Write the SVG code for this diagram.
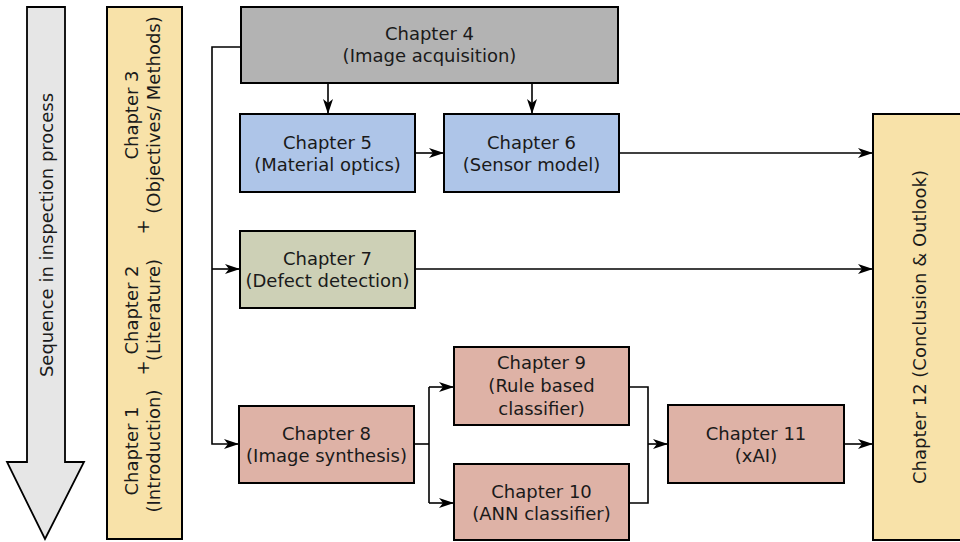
<svg xmlns="http://www.w3.org/2000/svg" width="960" height="542" viewBox="0 0 960 542">
<style>
text{font-family:"DejaVu Sans","Liberation Sans",sans-serif;font-size:18px;fill:#1a1a1a;text-anchor:middle}
.box{stroke:#000;stroke-width:2}
.grey{fill:#b3b3b3}
.blue{fill:#aec5e8}
.green{fill:#cdd0b6}
.pink{fill:#deb2a6}
.yellow{fill:#f8e2a9}
.con{fill:none;stroke:#000;stroke-width:1.6}
</style>
<defs>
<marker id="ah" markerUnits="userSpaceOnUse" markerWidth="16" markerHeight="12" viewBox="0 0 16 12" refX="15" refY="6" orient="auto">
<path d="M0,1 L15,6 L0,11 L4,6 z" fill="#000"/>
</marker>
</defs>
<rect width="960" height="542" fill="#fff"/>

<g id="sequence-arrow">
<path d="M27,7 H65 V462 H84 L45,539 L7,462 H27 Z" fill="#e6e6e6" stroke="#000" stroke-width="1.8"/>
<text transform="translate(53,235) rotate(-90)">Sequence in inspection process</text>
</g>

<g id="chapters-1-3">
<rect class="box yellow" x="107" y="7" width="75" height="532"/>
<text transform="translate(138,451) rotate(-90)">Chapter 1</text>
<text transform="translate(160,451) rotate(-90)">(Introduction)</text>
<text transform="translate(149,368) rotate(-90)">+</text>
<text transform="translate(138,310) rotate(-90)">Chapter 2</text>
<text transform="translate(160,310) rotate(-90)">(Literature)</text>
<text transform="translate(149,227) rotate(-90)">+</text>
<text transform="translate(138,115) rotate(-90)">Chapter 3</text>
<text transform="translate(160,115) rotate(-90)">(Objectives/ Methods)</text>
</g>

<g id="connectors">
<path class="con" d="M241,47 H212 V444 H239" marker-end="url(#ah)"/>
<path class="con" d="M212,269 H240" marker-end="url(#ah)"/>
<path class="con" d="M328,83 V114" marker-end="url(#ah)"/>
<path class="con" d="M532,83 V114" marker-end="url(#ah)"/>
<path class="con" d="M415,153 H444" marker-end="url(#ah)"/>
<path class="con" d="M619,153 H873" marker-end="url(#ah)"/>
<path class="con" d="M415,269 H873" marker-end="url(#ah)"/>
<path class="con" d="M414,444 H429"/>
<path class="con" d="M429,387 V503"/>
<path class="con" d="M429,387 H454" marker-end="url(#ah)"/>
<path class="con" d="M429,503 H454" marker-end="url(#ah)"/>
<path class="con" d="M629,387 H648 V503 H629"/>
<path class="con" d="M648,444 H668" marker-end="url(#ah)"/>
<path class="con" d="M844,444 H873" marker-end="url(#ah)"/>
</g>

<g id="chapter-4">
<rect class="box grey" x="241" y="7" width="377" height="76"/>
<text x="429.5" y="39.5">Chapter 4</text>
<text x="429.5" y="61.5">(Image acquisition)</text>
</g>

<g id="chapter-5">
<rect class="box blue" x="240" y="114" width="175" height="78"/>
<text x="327.5" y="148.5">Chapter 5</text>
<text x="327.5" y="170.5">(Material optics)</text>
</g>

<g id="chapter-6">
<rect class="box blue" x="444" y="114" width="175" height="78"/>
<text x="531.5" y="148.5">Chapter 6</text>
<text x="531.5" y="170.5">(Sensor model)</text>
</g>

<g id="chapter-7">
<rect class="box green" x="240" y="231" width="175" height="77"/>
<text x="327.5" y="264.5">Chapter 7</text>
<text x="327.5" y="286.5">(Defect detection)</text>
</g>

<g id="chapter-8">
<rect class="box pink" x="239" y="406" width="175" height="77"/>
<text x="326.5" y="439.5">Chapter 8</text>
<text x="326.5" y="461.5">(Image synthesis)</text>
</g>

<g id="chapter-9">
<rect class="box pink" x="454" y="347" width="175" height="78"/>
<text x="541.5" y="368.5">Chapter 9</text>
<text x="541.5" y="392">(Rule based</text>
<text x="541.5" y="415">classifier)</text>
</g>

<g id="chapter-10">
<rect class="box pink" x="454" y="464" width="175" height="76"/>
<text x="541.5" y="497.5">Chapter 10</text>
<text x="541.5" y="519.5">(ANN classifier)</text>
</g>

<g id="chapter-11">
<rect class="box pink" x="668" y="405" width="176" height="78"/>
<text x="756" y="439.5">Chapter 11</text>
<text x="756" y="462">(xAI)</text>
</g>

<g id="chapter-12">
<rect class="box yellow" x="873" y="114" width="100" height="426"/>
<text transform="translate(926,327) rotate(-90)">Chapter 12 (Conclusion &amp; Outlook)</text>
</g>
</svg>
